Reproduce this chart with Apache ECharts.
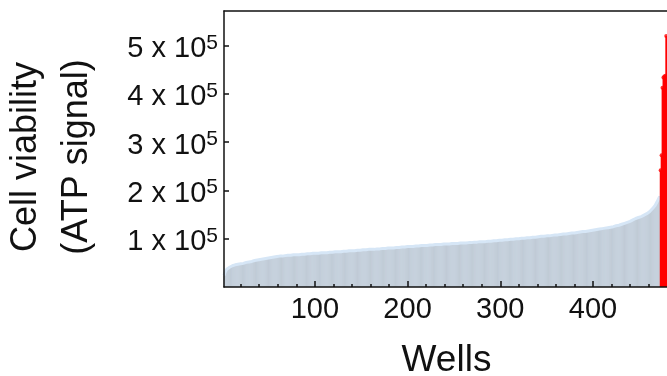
<!DOCTYPE html>
<html>
<head>
<meta charset="utf-8">
<script src="https://cdn.jsdelivr.net/npm/echarts@6/dist/echarts.min.js"></script>
<style>
  html, body { margin: 0; padding: 0; background: #fff; }
  #chart { width: 667px; height: 376px; }
</style>
</head>
<body>
<div id="chart"></div>
<script>
// viability per well, sorted, in thousands (wells 2..472 in blue, 473..479 in red)
const blueStart = 2;
const blueValuesK = [
  24, 30, 34, 37, 38, 40, 41, 43, 43, 44,
  44, 45, 46, 46, 46, 47, 47, 48, 48, 48,
  49, 49, 50, 50, 51, 51, 52, 52, 53, 53,
  53, 54, 54, 55, 55, 55, 56, 56, 57, 57,
  57, 58, 58, 58, 59, 59, 59, 60, 60, 60,
  61, 61, 61, 62, 62, 62, 63, 63, 63, 63,
  64, 64, 64, 64, 65, 65, 65, 65, 65, 66,
  66, 66, 66, 66, 66, 67, 67, 67, 67, 67,
  67, 67, 67, 68, 68, 68, 68, 68, 68, 69,
  69, 69, 69, 69, 69, 69, 70, 70, 70, 70,
  70, 70, 70, 70, 71, 71, 71, 71, 71, 71,
  71, 71, 72, 72, 72, 72, 72, 72, 72, 72,
  73, 73, 73, 73, 73, 73, 73, 74, 74, 74,
  74, 74, 74, 74, 74, 75, 75, 75, 75, 75,
  75, 75, 76, 76, 76, 76, 76, 76, 76, 77,
  77, 77, 77, 77, 77, 77, 78, 78, 78, 78,
  78, 78, 78, 79, 79, 79, 79, 79, 79, 79,
  80, 80, 80, 80, 80, 80, 80, 81, 81, 81,
  81, 81, 81, 81, 81, 82, 82, 82, 82, 82,
  82, 82, 83, 83, 83, 83, 83, 83, 84, 84,
  84, 84, 84, 84, 84, 85, 85, 85, 85, 85,
  85, 85, 85, 86, 86, 86, 86, 86, 86, 86,
  87, 87, 87, 87, 87, 87, 87, 87, 88, 88,
  88, 88, 88, 88, 88, 88, 89, 89, 89, 89,
  89, 89, 89, 89, 89, 90, 90, 90, 90, 90,
  90, 90, 90, 90, 91, 91, 91, 91, 91, 91,
  91, 91, 91, 92, 92, 92, 92, 92, 92, 93,
  93, 93, 93, 93, 93, 93, 94, 94, 94, 94,
  94, 94, 94, 95, 95, 95, 95, 95, 95, 95,
  96, 96, 96, 96, 96, 96, 96, 97, 97, 97,
  97, 97, 97, 98, 98, 98, 98, 98, 98, 99,
  99, 99, 99, 99, 100, 100, 100, 100, 100, 100,
  101, 101, 101, 101, 101, 101, 102, 102, 102, 102,
  102, 102, 102, 103, 103, 103, 103, 104, 104, 104,
  104, 104, 105, 105, 105, 105, 105, 106, 106, 106,
  106, 106, 107, 107, 107, 107, 108, 108, 108, 108,
  108, 109, 109, 109, 109, 109, 110, 110, 110, 110,
  110, 111, 111, 111, 111, 112, 112, 112, 112, 113,
  113, 113, 113, 114, 114, 114, 114, 115, 115, 115,
  115, 116, 116, 116, 116, 117, 117, 117, 118, 118,
  118, 118, 119, 119, 119, 120, 120, 120, 121, 121,
  121, 122, 122, 122, 123, 123, 124, 124, 124, 125,
  125, 126, 126, 127, 127, 128, 128, 129, 129, 130,
  131, 131, 132, 133, 133, 134, 135, 136, 136, 137,
  138, 139, 140, 141, 142, 142, 143, 144, 145, 146,
  146, 147, 148, 149, 150, 151, 152, 153, 154, 156,
  158, 160, 162, 163, 166, 169, 172, 176, 178, 180,
  188
];
const redStart = 473;
const redValuesK = [242, 273, 413, 434, 436, 438, 520];

const minorTicks = [20, 40, 60, 80, 120, 140, 160, 180, 220, 240, 260, 280,
  320, 340, 360, 380, 420, 440, 460];
const majorTicks = [100, 200, 300, 400];
const yTicks = [100000, 200000, 300000, 400000, 500000];

const blueData = blueValuesK.map((v, i) => [blueStart + i, v * 1000]);
const redData = redValuesK.map((v, i) => [redStart + i, v * 1000]);

const font = 'Liberation Sans, Arial, sans-serif';
const ink = '#111';

var chart = echarts.init(document.getElementById('chart'));
var option = {
  animation: false,
  textStyle: { fontFamily: font },
  grid: { left: 224, top: 11, right: -2, bottom: 89, outerBoundsMode: 'none', containLabel: false },
  xAxis: [{
    type: 'value', position: 'bottom', min: 2, max: 482, z: 10,
    axisLine: { lineStyle: { color: ink, width: 1.5 } },
    axisTick: { inside: true, length: 3, customValues: minorTicks, lineStyle: { color: ink, width: 1.5 } },
    axisLabel: { show: false },
    splitLine: { show: false }
  }, {
    type: 'value', position: 'bottom', min: 2, max: 482, z: 10,
    axisLine: { show: false },
    axisTick: { inside: true, length: 6, customValues: majorTicks, lineStyle: { color: ink, width: 1.5 } },
    axisLabel: { customValues: majorTicks, color: ink, fontSize: 29, margin: 8, fontFamily: font },
    splitLine: { show: false },
    name: 'Wells', nameLocation: 'middle', nameGap: 55,
    nameTextStyle: { color: ink, fontSize: 37, fontFamily: font }
  }, {
    type: 'value', position: 'top', min: 2, max: 482, z: 10,
    axisLine: { lineStyle: { color: ink, width: 1.5 } },
    axisTick: { show: false }, axisLabel: { show: false }, splitLine: { show: false }
  }],
  yAxis: {
    type: 'value', min: 0, max: 572000, z: 10,
    axisLine: { show: true, lineStyle: { color: ink, width: 1.5 } },
    axisTick: { inside: true, length: 5, customValues: yTicks, lineStyle: { color: ink, width: 1.5 } },
    axisLabel: {
      customValues: yTicks, margin: 6, padding: [7, 0, 0, 0],
      formatter: v => '{a|' + (v / 100000) + ' x 10}{b|5}',
      rich: {
        a: { fontSize: 29, color: ink, fontFamily: font, lineHeight: 40 },
        b: { fontSize: 21, color: ink, fontFamily: font, verticalAlign: 'top', lineHeight: 21, padding: [3, 0, 0, 0] }
      }
    },
    splitLine: { show: false }
  },
  graphic: [{
    type: 'text', x: 52, y: 157, rotation: Math.PI / 2,
    style: {
      text: 'Cell viability\n(ATP signal)', fill: ink,
      font: '36px ' + font, lineHeight: 51,
      textAlign: 'center', textVerticalAlign: 'middle'
    }
  }],
  series: [{
    type: 'line', xAxisIndex: 0, data: blueData, symbol: 'none', z: 1,
    lineStyle: { width: 0 }, areaStyle: { color: '#dde9f6', opacity: 1 }
  }, {
    type: 'bar', xAxisIndex: 0, data: blueData, barWidth: 0.35, z: 2,
    itemStyle: { color: '#c0cbd6' }
  }, {
    type: 'line', xAxisIndex: 0, data: blueData, symbol: 'none', z: 3,
    lineStyle: { width: 3, color: '#d6e6f6' }
  }, {
    type: 'bar', xAxisIndex: 1, data: redData, barWidth: 1.8, z: 4,
    itemStyle: { color: '#ff0000' }
  }, {
    type: 'scatter', xAxisIndex: 1, data: redData, symbolSize: 4, z: 5,
    itemStyle: { color: '#ff0000' }
  }]
};
chart.setOption(option);
</script>
</body>
</html>
